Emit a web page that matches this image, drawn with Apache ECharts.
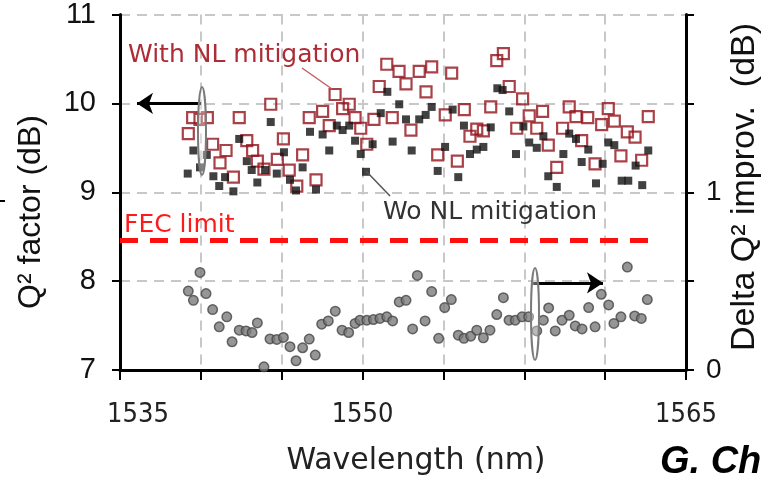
<!DOCTYPE html>
<html>
<head>
<meta charset="utf-8">
<script src="https://cdn.jsdelivr.net/npm/echarts@6/dist/echarts.min.js"></script>
<style>
  html, body { margin: 0; padding: 0; background: #fff; }
  #chart { width: 761px; height: 477px; }
</style>
</head>
<body>
<div id="chart"></div>
<script>
// x tick labels (7 grid steps between 1535 and 1565)
var xTickLabels = ['1535', '', '', '1550', '', '', '', '1565'];

// Q2 factor with NL mitigation (red hollow squares): [wavelength nm, Q2 dB]
var withNL = [
  [1538.62, 9.66], [1538.85, 9.84], [1539.24, 9.82], [1539.63, 9.84], [1539.91, 9.54], [1540.30, 9.33],
  [1540.62, 9.47], [1541.01, 9.17], [1541.32, 9.84], [1541.72, 9.58], [1542.03, 9.47], [1542.28, 9.35],
  [1542.63, 9.26], [1542.99, 9.99], [1543.34, 9.37], [1543.66, 9.60], [1543.97, 9.25], [1544.37, 9.07],
  [1544.68, 9.42], [1545.03, 9.84], [1545.39, 9.14], [1545.74, 9.91], [1546.09, 9.75], [1546.40, 10.10],
  [1546.80, 9.94], [1547.15, 9.99], [1547.46, 9.84], [1547.76, 9.72], [1548.08, 9.54], [1548.46, 9.82],
  [1548.74, 10.19], [1549.14, 10.44], [1549.43, 9.84], [1549.79, 10.36], [1550.16, 10.22], [1550.42, 9.70],
  [1550.86, 10.36], [1551.22, 10.13], [1551.52, 10.41], [1551.84, 9.42], [1552.24, 9.87], [1552.58, 10.34],
  [1552.88, 9.35], [1553.25, 9.93], [1553.55, 9.63], [1553.91, 9.71], [1554.26, 9.69], [1554.65, 9.96],
  [1554.97, 10.48], [1555.32, 10.56], [1555.63, 10.19], [1556.03, 9.72], [1556.34, 10.05], [1556.69, 9.86],
  [1557.09, 9.72], [1557.40, 9.91], [1557.70, 9.53], [1558.15, 9.28], [1558.46, 9.72], [1558.81, 9.96],
  [1559.17, 9.85], [1559.47, 9.58], [1559.79, 9.84], [1560.18, 9.32], [1560.53, 9.76], [1560.88, 9.94],
  [1561.20, 9.80], [1561.55, 9.41], [1561.89, 9.68], [1562.30, 9.62], [1562.65, 9.36], [1563.00, 9.85]
];

// Q2 factor without NL mitigation (black squares)
var woNL = [
  [1538.59, 9.21], [1538.89, 9.47], [1539.24, 9.28], [1539.60, 9.42], [1539.95, 9.18], [1540.26, 9.07],
  [1540.57, 9.17], [1541.01, 9.01], [1541.32, 9.60], [1541.72, 9.35], [1541.98, 9.25], [1542.28, 9.11],
  [1542.69, 9.25], [1542.99, 9.79], [1543.31, 9.21], [1543.69, 9.45], [1544.01, 9.14], [1544.33, 9.02],
  [1544.68, 9.28], [1545.07, 9.68], [1545.39, 9.03], [1545.74, 9.65], [1546.09, 9.47], [1546.49, 9.75],
  [1546.80, 9.70], [1547.15, 9.75], [1547.46, 9.58], [1547.76, 9.43], [1548.04, 9.23], [1548.39, 9.54],
  [1548.82, 9.89], [1549.17, 10.13], [1549.45, 9.57], [1549.80, 9.99], [1550.16, 9.82], [1550.46, 9.47],
  [1550.86, 9.82], [1551.20, 9.87], [1551.52, 9.96], [1551.84, 9.24], [1552.23, 9.51], [1552.63, 9.93],
  [1552.93, 9.17], [1553.23, 9.75], [1553.55, 9.43], [1553.91, 9.48], [1554.26, 9.51], [1554.65, 9.73],
  [1555.00, 10.17], [1555.28, 10.15], [1555.63, 9.91], [1555.99, 9.43], [1556.38, 9.74], [1556.69, 9.56],
  [1557.09, 9.50], [1557.44, 9.63], [1557.70, 9.18], [1558.15, 9.06], [1558.50, 9.43], [1558.81, 9.66],
  [1559.17, 9.60], [1559.47, 9.34], [1559.82, 9.48], [1560.23, 9.10], [1560.58, 9.32], [1560.88, 9.56],
  [1561.20, 9.53], [1561.59, 9.13], [1561.94, 9.13], [1562.33, 9.30], [1562.68, 9.08], [1563.00, 9.47]
];

// Delta Q2 improvement (grey circles, right axis, dB)
var deltaQ = [
  [1538.62, 0.444], [1538.89, 0.392], [1539.24, 0.549], [1539.56, 0.430], [1539.91, 0.340], [1540.26, 0.243],
  [1540.66, 0.299], [1540.94, 0.159], [1541.32, 0.224], [1541.68, 0.220], [1542.00, 0.211], [1542.28, 0.265],
  [1542.63, 0.018], [1542.95, 0.175], [1543.31, 0.172], [1543.66, 0.183], [1544.01, 0.131], [1544.33, 0.052],
  [1544.68, 0.125], [1545.03, 0.174], [1545.35, 0.084], [1545.69, 0.258], [1546.04, 0.276], [1546.41, 0.331],
  [1546.77, 0.224], [1547.12, 0.211], [1547.46, 0.262], [1547.72, 0.280], [1548.08, 0.280], [1548.43, 0.284],
  [1548.78, 0.290], [1549.14, 0.299], [1549.45, 0.276], [1549.80, 0.383], [1550.16, 0.392], [1550.51, 0.231],
  [1550.76, 0.532], [1551.17, 0.276], [1551.52, 0.441], [1551.89, 0.178], [1552.21, 0.351], [1552.56, 0.396],
  [1552.93, 0.196], [1553.23, 0.178], [1553.59, 0.190], [1553.91, 0.224], [1554.26, 0.181], [1554.61, 0.224],
  [1554.97, 0.312], [1555.32, 0.407], [1555.62, 0.280], [1555.95, 0.280], [1556.31, 0.299], [1556.66, 0.299],
  [1557.09, 0.220], [1557.44, 0.280], [1557.72, 0.349], [1558.07, 0.220], [1558.43, 0.280], [1558.81, 0.308],
  [1559.13, 0.248], [1559.49, 0.231], [1559.84, 0.351], [1560.18, 0.243], [1560.51, 0.426], [1560.90, 0.366],
  [1561.18, 0.262], [1561.55, 0.299], [1561.89, 0.579], [1562.28, 0.304], [1562.63, 0.290], [1562.95, 0.396]
];

var fecLimit = 8.46;

var condensed = '"DejaVu Sans Condensed", "DejaVu Sans", sans-serif';
var dejavu = '"DejaVu Sans", sans-serif';
var arial = '"Liberation Sans", Arial, sans-serif';
var gridLine = { show: true, lineStyle: { color: '#c8c8c8', width: 2, type: [10, 7] } };

var myChart = echarts.init(document.getElementById('chart'));

myChart.setOption({
  animation: false,
  backgroundColor: '#fff',
  grid: { left: 120, right: 75, top: 13, bottom: 107 },
  xAxis: [
    {
      type: 'value', min: 0, max: 7, interval: 1,
      axisLine: { show: true, lineStyle: { color: '#000', width: 3 } },
      axisTick: { show: true, length: 10, lineStyle: { color: '#000', width: 2 } },
      splitLine: gridLine,
      axisLabel: {
        showMinLabel: true, showMaxLabel: true,
        margin: 31, color: '#222', fontSize: 27, fontFamily: condensed,
        formatter: function (v) {
          var t = xTickLabels[v];
          if (!t) return '';
          if (v === 0) return '{first|' + t + '}';
          return t;
        },
        rich: { first: { fontSize: 27, fontFamily: condensed, color: '#222', padding: [0, 0, 0, 36] } }
      }
    },
    { type: 'value', min: 1535, max: 1565, show: false }
  ],
  yAxis: [
    {
      type: 'value', min: 7, max: 11, interval: 1,
      axisLine: { show: true, lineStyle: { color: '#000', width: 3 } },
      axisTick: { show: true, length: 8, lineStyle: { color: '#000', width: 2 } },
      splitLine: gridLine,
      axisLabel: { margin: 24, color: '#111', fontSize: 29, fontFamily: arial }
    },
    {
      type: 'value', min: 0, max: 2, interval: 0.5, position: 'right',
      axisLine: { show: true, lineStyle: { color: '#000', width: 3 } },
      axisTick: { show: true, length: 8, lineStyle: { color: '#000', width: 2 } },
      splitLine: { show: false },
      axisLabel: {
        showMinLabel: true, showMaxLabel: true,
        margin: 20, color: '#111', fontSize: 28, fontFamily: arial,
        formatter: function (v) { return (v === 0 || v === 1) ? String(v) : ''; }
      }
    }
  ],
  series: [
    {
      name: 'Delta Q2 improv.',
      type: 'scatter', xAxisIndex: 1, yAxisIndex: 1,
      symbol: 'circle', symbolSize: 9.5,
      itemStyle: { color: '#7c7c7c', borderColor: '#464646', borderWidth: 1.5 },
      data: deltaQ
    },
    {
      name: 'With NL mitigation',
      type: 'scatter', xAxisIndex: 1, yAxisIndex: 0,
      symbol: 'rect', symbolSize: 11,
      itemStyle: { color: 'rgba(0,0,0,0)', borderColor: '#94121a', borderWidth: 2.2 },
      data: withNL,
      markLine: {
        silent: true, symbol: ['none', 'none'], label: { show: false },
        lineStyle: { color: '#ff1010', width: 5, type: [18, 12] },
        data: [[{ coord: [1535, fecLimit] }, { coord: [1563.2, fecLimit] }]]
      }
    },
    {
      name: 'Wo NL mitigation',
      type: 'scatter', xAxisIndex: 1, yAxisIndex: 0,
      symbol: 'rect', symbolSize: 8,
      itemStyle: { color: '#111' },
      data: woNL,
      markLine: {
        silent: true, symbol: ['none', 'arrow'], symbolSize: 16, label: { show: false },
        lineStyle: { color: '#000', width: 3, type: 'solid' },
        data: [
          [{ coord: [1539.3, 10] }, { coord: [1535.9, 10] }],
          [{ coord: [1556.9, 7.98] }, { coord: [1560.6, 7.98] }]
        ]
      }
    }
  ],
  graphic: [
    { type: 'ellipse', z: 100, shape: { cx: 202, cy: 131, rx: 4, ry: 44 },
      style: { fill: 'rgba(255,255,255,0.35)', stroke: '#7a7a7a', lineWidth: 2 } },
    { type: 'ellipse', z: 100, shape: { cx: 535, cy: 314, rx: 4, ry: 46 },
      style: { fill: 'rgba(255,255,255,0.35)', stroke: '#7a7a7a', lineWidth: 2 } },
    { type: 'line', z: 100, shape: { x1: 302, y1: 68, x2: 332, y2: 89 },
      style: { stroke: '#c06068', lineWidth: 1.5 } },
    { type: 'line', z: 100, shape: { x1: 366, y1: 171, x2: 390, y2: 196 },
      style: { stroke: '#555', lineWidth: 1.5 } },
    { type: 'text', z: 100, x: 128, y: 55,
      style: { text: 'With NL mitigation', fill: '#ad2c36', font: '25px ' + dejavu, verticalAlign: 'middle' } },
    { type: 'text', z: 100, x: 383, y: 212,
      style: { text: 'Wo NL mitigation', fill: '#333', font: '25px ' + dejavu, verticalAlign: 'middle' } },
    { type: 'text', z: 100, x: 124, y: 225,
      style: { text: 'FEC limit', fill: '#ff1a1a', font: '25px ' + dejavu, verticalAlign: 'middle' } },
    { type: 'text', z: 100, x: 416, y: 461,
      style: { text: 'Wavelength (nm)', fill: '#222', font: '30px ' + dejavu, align: 'center', verticalAlign: 'middle' } },
    { type: 'text', z: 100, x: 31, y: 212, rotation: Math.PI / 2,
      style: { text: 'Q² factor (dB)', fill: '#111', font: '32px ' + arial, align: 'center', verticalAlign: 'middle' } },
    { type: 'text', z: 100, x: 745, y: 187, rotation: Math.PI / 2,
      style: { text: 'Delta Q² improv.  (dB)', fill: '#111', font: '34px ' + arial, align: 'center', verticalAlign: 'middle' } },
    { type: 'text', z: 100, x: 660, y: 463,
      style: { text: 'G. Ch', fill: '#000', font: 'italic bold 38px ' + arial, verticalAlign: 'middle' } },
    { type: 'line', z: 100, shape: { x1: 0, y1: 201, x2: 5, y2: 201 },
      style: { stroke: '#000', lineWidth: 2 } }
  ]
});
</script>
</body>
</html>
